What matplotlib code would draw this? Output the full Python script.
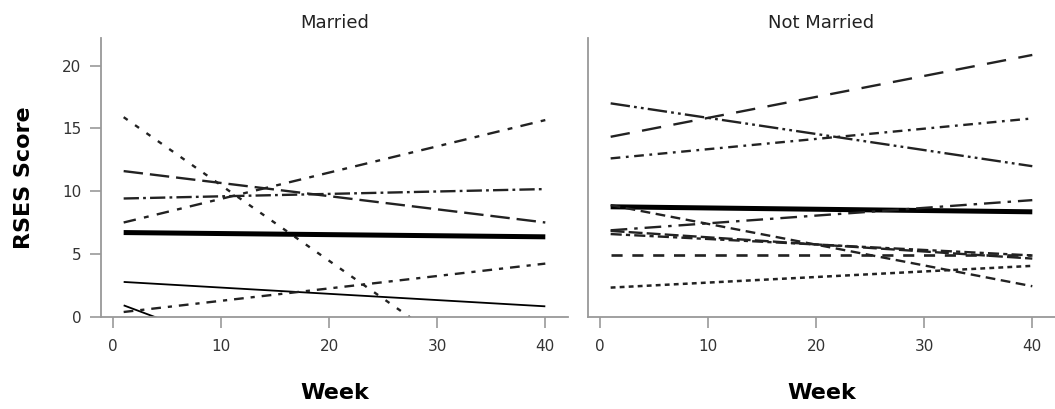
import matplotlib
matplotlib.use("Agg")
import matplotlib.pyplot as plt

plt.rcParams['font.family'] = ['DejaVu Sans']
plt.rcParams['lines.scale_dashes'] = False

# fitted RSES trajectories: value at the first and last week
weeks = [1, 40]

married_start = [15.9, 0.93, 2.79, 0.40, 6.72, 7.52, 11.61, 9.43]
married_end = [-7.55, -11.6, 0.85, 4.25, 6.38, 15.67, 7.52, 10.18]

single_start = [14.34, 17.0, 12.62, 8.77, 6.90, 8.90, 6.85, 6.60, 4.95, 2.34]
single_end = [20.85, 12.0, 15.80, 8.37, 9.30, 2.45, 4.65, 4.90, 4.95, 4.07]

panel_titles = ['Married', 'Not Married']
x_ticks = [0, 10, 20, 30, 40]
y_ticks = [0, 5, 10, 15, 20]

# (linewidth, dash pattern in points; None = solid)
married_styles = [
    (1.7, (3.5, 6.5)),
    (1.3, None),
    (1.3, None),
    (1.7, (7, 5, 3, 5)),
    (3.6, None),
    (1.7, (9, 6, 3.5, 6)),
    (1.7, (14, 5)),
    (1.7, (11, 3, 2, 3)),
]
single_styles = [
    (1.7, (14, 9)),
    (1.7, (14, 3, 2, 3, 2, 3)),
    (1.7, (7, 4, 2, 4)),
    (3.6, None),
    (1.7, (12, 5, 2.5, 5)),
    (1.7, (7, 4)),
    (1.7, (10, 3)),
    (1.7, (8, 3, 3, 3)),
    (1.9, (8, 7)),
    (1.8, (3.5, 3)),
]

fig = plt.figure(figsize=(10.55, 4.09), dpi=100)
ax_left = fig.add_axes([0.0957, 0.2249, 0.4427, 0.6822])
ax_right = fig.add_axes([0.5573, 0.2249, 0.4427, 0.6822])

spine_col = '#999999'
panels = [
    (ax_left, married_start, married_end, married_styles),
    (ax_right, single_start, single_end, single_styles),
]
for i, (ax, starts, ends, styles) in enumerate(panels):
    for s, e, (lw, dash) in zip(starts, ends, styles):
        col = '#000000' if dash is None else '#222222'
        line, = ax.plot(weeks, [s, e], color=col, lw=lw, solid_capstyle='butt',
                        dash_capstyle='butt')
        if dash is not None:
            line.set_dashes(dash)

    ax.set_xlim(-1.1, 42.1)
    ax.set_ylim(0, 22.2)
    ax.set_xticks(x_ticks)
    for side in ['top', 'right']:
        ax.spines[side].set_visible(False)
    for side in ['left', 'bottom']:
        ax.spines[side].set_color(spine_col)
        ax.spines[side].set_linewidth(1.3)
    ax.tick_params(axis='x', direction='out', length=8, width=1.2, color=spine_col,
                   labelsize=11, labelcolor='#333333', pad=8)
    ax.set_title(panel_titles[i], fontsize=13, color='#222222', pad=7)
    ax.set_xlabel('Week', fontsize=16, fontweight='bold', labelpad=21)

    if i == 0:
        ax.set_yticks(y_ticks)
        ax.tick_params(axis='y', direction='out', length=8, width=1.2, color=spine_col,
                       labelsize=11, labelcolor='#333333', pad=6)
        ax.set_ylabel('RSES Score', fontsize=16, fontweight='bold', labelpad=20)
    else:
        ax.set_yticks([])

fig.savefig('out.png', dpi=100)
